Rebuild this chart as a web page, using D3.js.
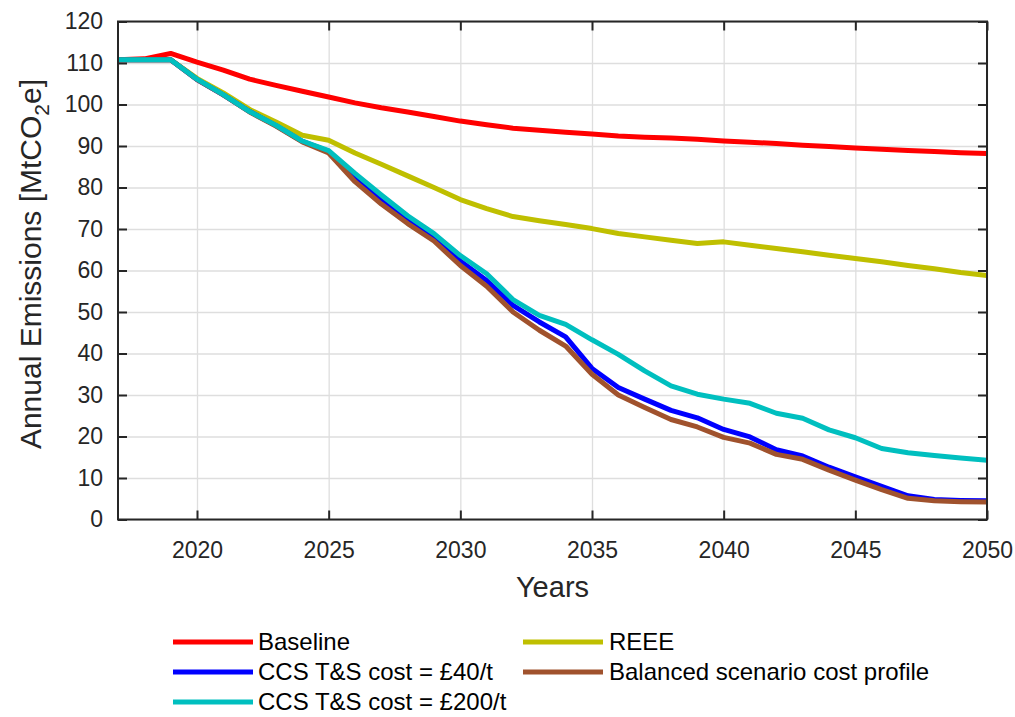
<!DOCTYPE html>
<html>
<head>
<meta charset="utf-8">
<script src="https://cdn.jsdelivr.net/npm/d3@7"></script>
<style>
  html, body { margin: 0; padding: 0; background: #fff; }
  svg { display: block; font-family: "Liberation Sans", Arial, Helvetica, sans-serif; }
</style>
</head>
<body>
<svg id="chart" width="1015" height="717"></svg>
<script>
// Annual emissions pathways, 2017-2050 (MtCO2e)
const years = [2017, 2018, 2019, 2020, 2021, 2022, 2023, 2024, 2025, 2026, 2027, 2028,
  2029, 2030, 2031, 2032, 2033, 2034, 2035, 2036, 2037, 2038, 2039, 2040, 2041, 2042,
  2043, 2044, 2045, 2046, 2047, 2048, 2049, 2050];

const baseline = [110.8, 111.0, 112.3, 110.2, 108.3, 106.1, 104.6, 103.2, 101.8, 100.4,
  99.2, 98.2, 97.1, 96.0, 95.1, 94.3, 93.8, 93.3, 92.9, 92.4, 92.1, 91.9, 91.6, 91.2,
  90.9, 90.6, 90.2, 89.9, 89.5, 89.2, 88.9, 88.7, 88.4, 88.2];

const reee = [110.8, 110.8, 110.8, 106.3, 102.8, 98.8, 95.8, 92.6, 91.4, 88.3, 85.6,
  82.8, 80.0, 77.1, 74.9, 73.0, 72.0, 71.1, 70.1, 68.9, 68.1, 67.3, 66.5, 66.9, 66.1,
  65.3, 64.5, 63.7, 62.9, 62.1, 61.2, 60.4, 59.5, 58.8];

const ccs40 = [110.8, 110.8, 110.8, 106.0, 102.3, 98.3, 94.9, 91.1, 88.7, 82.6, 77.3,
  72.4, 68.0, 62.3, 57.6, 51.6, 47.6, 44.0, 36.4, 31.8, 29.0, 26.3, 24.5, 21.7, 19.9,
  16.8, 15.3, 12.6, 10.3, 8.0, 5.7, 4.8, 4.6, 4.5];

const balanced = [110.8, 110.8, 110.8, 106.0, 102.3, 98.2, 94.8, 91.0, 88.3, 81.4, 76.0,
  71.3, 67.1, 61.2, 56.2, 50.0, 45.6, 41.8, 35.0, 30.0, 27.0, 24.1, 22.3, 19.8, 18.4,
  15.7, 14.5, 11.9, 9.5, 7.2, 5.1, 4.5, 4.3, 4.2];

const ccs200 = [110.8, 110.8, 110.8, 106.1, 102.4, 98.3, 95.0, 91.2, 88.9, 83.4, 78.2,
  73.2, 68.9, 63.6, 59.2, 53.0, 49.2, 47.0, 43.3, 39.8, 35.8, 32.2, 30.2, 29.0, 28.0,
  25.6, 24.4, 21.6, 19.7, 17.1, 16.1, 15.4, 14.8, 14.3];

const seriesNames = ["Baseline", "REEE", "CCS T&S cost = £40/t",
  "Balanced scenario cost profile", "CCS T&S cost = £200/t"];
const seriesValues = [baseline, reee, ccs40, balanced, ccs200];
const seriesColors = ["#ff0000", "#bfbf00", "#0000ff", "#a0522d", "#00bfbf"];

const xTicks = [2020, 2025, 2030, 2035, 2040, 2045, 2050];
const yTicks = [0, 10, 20, 30, 40, 50, 60, 70, 80, 90, 100, 110, 120];

// ---- layout ----
const svg = d3.select("#chart");
const plot = { left: 118, right: 987, top: 21.5, bottom: 519.5 };
const W = plot.right - plot.left, H = plot.bottom - plot.top;
const ink = "#262626";

const x = d3.scaleLinear().domain([2017, 2050]).range([plot.left, plot.right]);
const y = d3.scaleLinear().domain([0, 120]).range([plot.bottom, plot.top]);

// grid
const grid = svg.append("g").attr("class", "grid");
grid.append("g")
  .attr("transform", `translate(0,${plot.bottom})`)
  .call(d3.axisBottom(x).tickValues(xTicks).tickSize(-H).tickFormat(""))
  .call(g => g.select(".domain").remove());
grid.append("g")
  .attr("transform", `translate(${plot.left},0)`)
  .call(d3.axisLeft(y).tickValues(yTicks).tickSize(-W).tickFormat(""))
  .call(g => g.select(".domain").remove());
grid.selectAll("line").attr("stroke", "#dedede").attr("stroke-width", 1.3);

// series
const line = d3.line()
  .x((d, i) => x(years[i]))
  .y(d => y(d));

svg.append("clipPath").attr("id", "plotclip")
  .append("rect").attr("x", plot.left).attr("y", plot.top).attr("width", W).attr("height", H);

svg.append("g").attr("clip-path", "url(#plotclip)")
  .selectAll("path")
  .data(seriesValues)
  .join("path")
  .attr("d", d => line(d))
  .attr("fill", "none")
  .attr("stroke", (d, i) => seriesColors[i])
  .attr("stroke-width", 5)
  .attr("stroke-linejoin", "round")
  .attr("stroke-linecap", "butt");

// axes with inward ticks on all sides
const tickLen = 9;
function styleAxis(g) {
  g.select(".domain").remove();
  g.selectAll(".tick line").attr("stroke", ink).attr("stroke-width", 2);
  g.selectAll(".tick text").attr("fill", ink).style("font-size", "23px");
}
svg.append("g")
  .attr("transform", `translate(0,${plot.bottom})`)
  .call(d3.axisBottom(x).tickValues(xTicks).tickSizeInner(-tickLen).tickSizeOuter(0)
    .tickPadding(22).tickFormat(d3.format("d")))
  .call(styleAxis);
svg.append("g")
  .attr("transform", `translate(0,${plot.top})`)
  .call(d3.axisTop(x).tickValues(xTicks).tickSizeInner(-tickLen).tickSizeOuter(0).tickFormat(""))
  .call(styleAxis);
svg.append("g")
  .attr("transform", `translate(${plot.left},0)`)
  .call(d3.axisLeft(y).tickValues(yTicks).tickSizeInner(-tickLen).tickSizeOuter(0)
    .tickPadding(15).tickFormat(d3.format("d")))
  .call(styleAxis);
svg.append("g")
  .attr("transform", `translate(${plot.right},0)`)
  .call(d3.axisRight(y).tickValues(yTicks).tickSizeInner(-tickLen).tickSizeOuter(0).tickFormat(""))
  .call(styleAxis);

// axes box
svg.append("rect")
  .attr("x", plot.left).attr("y", plot.top)
  .attr("width", W).attr("height", H)
  .attr("fill", "none").attr("stroke", ink).attr("stroke-width", 2);

// axis titles
svg.append("text")
  .attr("x", (plot.left + plot.right) / 2).attr("y", 597)
  .attr("text-anchor", "middle").attr("fill", ink)
  .style("font-size", "29px").text("Years");

const yl = svg.append("text")
  .attr("transform", `translate(41,264) rotate(-90)`)
  .attr("text-anchor", "middle").attr("fill", ink)
  .style("font-size", "30px");
yl.append("tspan").text("Annual Emissions [MtCO");
yl.append("tspan").attr("dy", 8).style("font-size", "21px").text("2");
yl.append("tspan").attr("dy", -8).text("e]");

// legend (two columns, filled row-wise)
const legendCols = [{ lx: 173, tx: 258 }, { lx: 523, tx: 609 }];
const legendRows = [642, 672, 702];
const legend = svg.append("g").attr("class", "legend");
seriesNames.forEach((name, i) => {
  const col = legendCols[i % 2];
  const rowY = legendRows[Math.floor(i / 2)];
  legend.append("line")
    .attr("x1", col.lx).attr("x2", col.lx + 80)
    .attr("y1", rowY).attr("y2", rowY)
    .attr("stroke", seriesColors[i]).attr("stroke-width", 5);
  legend.append("text")
    .attr("x", col.tx).attr("y", rowY)
    .attr("dy", "0.35em").attr("fill", "#000")
    .style("font-size", "24px").text(name);
});
</script>
</body>
</html>
